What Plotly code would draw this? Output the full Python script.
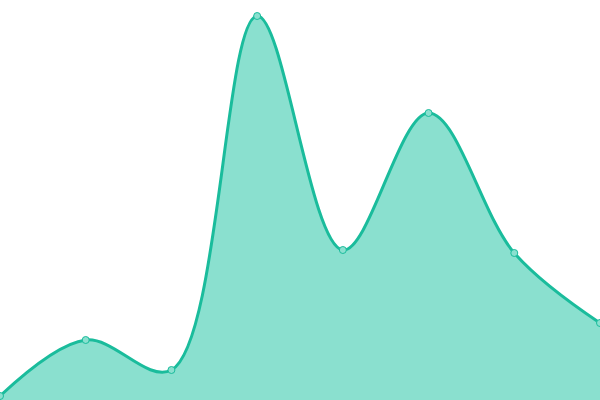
import plotly.graph_objects as go

categories = [0, 1, 2, 3, 4, 5, 6, 7]
values = [4, 60, 30, 384, 150, 287, 147, 77]

fig = go.Figure()
fig.add_trace(go.Scatter(
    x=categories, y=values,
    mode="lines+markers",
    line=dict(shape="spline", smoothing=1.0, color="#1abc9c", width=3),
    fill="tozeroy", fillcolor="#8ae0cf",
    marker=dict(size=7, color="#8ae0cf", line=dict(color="#1abc9c", width=1)),
    hoverinfo="skip",
))
fig.update_layout(
    width=600, height=400,
    margin=dict(l=0, r=0, t=0, b=0),
    paper_bgcolor="white", plot_bgcolor="white",
    showlegend=False,
    xaxis=dict(range=[0, 7], visible=False, fixedrange=True),
    yaxis=dict(range=[0, 400], visible=False, fixedrange=True),
)
fig.write_html(
    "out.html",
    config={"displayModeBar": False},
    post_script="document.body.style.margin='0';document.body.style.overflow='hidden';",
)
